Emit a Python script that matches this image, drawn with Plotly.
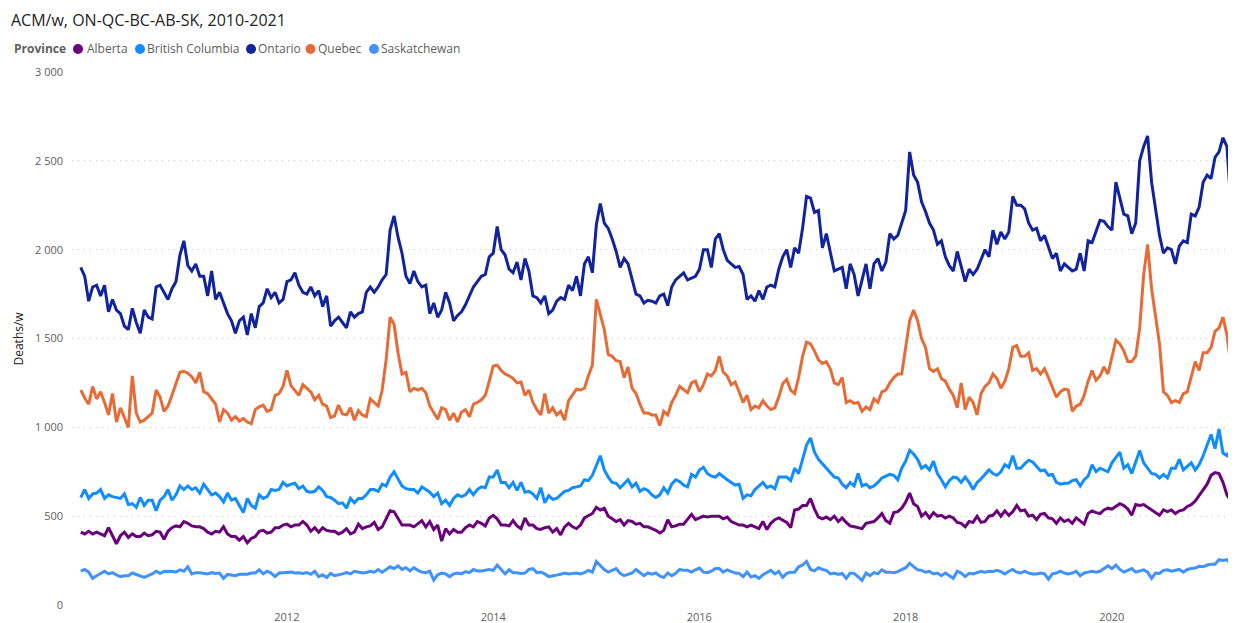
import datetime as dt
import plotly.graph_objects as go

# ---------------- text & categories ----------------
TITLE = "ACM/w, ON-QC-BC-AB-SK, 2010-2021"
LEGEND_TITLE = "Province"
Y_TITLE = "Deaths/w"
PROVINCES = ["Alberta", "British Columbia", "Ontario", "Quebec", "Saskatchewan"]
COLORS = ["#6B007B", "#118DFF", "#12239E", "#E66C37", "#4092FF"]
Y_TICKS = [0, 500, 1000, 1500, 2000, 2500, 3000]
Y_TICK_LABELS = ["0", "500", "1 000", "1 500", "2 000", "2 500", "3 000"]
X_TICK_YEARS = [2012, 2014, 2016, 2018, 2020]
X_TICK_LABELS = ["2012", "2014", "2016", "2018", "2020"]
START = dt.datetime(2010, 1, 1)
STEP_DAYS = 365.25 / 26  # values read every two weeks

# ---------------- values (deaths per week) ----------------
alberta = [
    410, 400, 415, 400, 410, 400, 390, 435, 385, 345, 390, 410, 380, 400, 385, 385, 405, 390, 395, 415, 410, 370, 415, 435, 445, 440,
    470, 460, 445, 440, 440, 430, 410, 400, 415, 410, 440, 400, 385, 385, 365, 385, 350, 375, 385, 415, 420, 405, 410, 435, 435, 450,
    455, 440, 450, 450, 470, 450, 415, 435, 410, 435, 420, 415, 415, 400, 410, 430, 400, 410, 455, 430, 440, 445, 465, 425, 440, 485,
    530, 525, 490, 450, 450, 450, 440, 460, 475, 440, 470, 425, 450, 360, 430, 400, 425, 410, 410, 435, 450, 440, 470, 460, 445, 490,
    505, 485, 450, 450, 445, 475, 445, 430, 490, 450, 450, 430, 425, 435, 440, 410, 430, 395, 440, 460, 440, 430, 450, 490, 505, 515,
    550, 535, 545, 500, 485, 470, 480, 450, 475, 470, 455, 460, 440, 440, 430, 420, 405, 420, 480, 440, 445, 455, 455, 480, 510, 480,
    490, 500, 495, 500, 500, 500, 485, 495, 470, 460, 450, 450, 440, 450, 440, 430, 470, 425, 460, 480, 490, 475, 465, 435, 535, 540,
    560, 560, 600, 540, 495, 485, 495, 480, 500, 470, 490, 465, 445, 440, 435, 430, 460, 465, 470, 490, 515, 475, 460, 520, 525, 545,
    580, 630, 570, 555, 500, 520, 490, 520, 500, 505, 490, 500, 490, 465, 460, 440, 470, 465, 500, 465, 470, 500, 505, 530, 500, 530,
    505, 525, 560, 530, 535, 500, 505, 480, 510, 515, 490, 485, 460, 490, 470, 480, 460, 490, 470, 455, 515, 530, 520, 515, 535, 545,
    540, 555, 570, 560, 540, 505, 565, 560, 565, 550, 535, 515, 505, 535, 525, 535, 515, 530, 535, 555, 565, 585, 615, 645, 680, 730,
    745, 740, 690, 620, 585, 570,
]

british_columbia = [
    605, 650, 600, 625, 630, 650, 600, 620, 610, 605, 600, 625, 565, 570, 550, 605, 560, 590, 590, 530, 590, 610, 650, 590, 620, 670,
    650, 670, 650, 660, 630, 680, 650, 620, 630, 610, 580, 630, 590, 600, 560, 520, 600, 560, 545, 620, 600, 610, 650, 645, 650, 690,
    670, 680, 685, 655, 670, 640, 635, 640, 665, 645, 610, 605, 590, 570, 575, 545, 600, 575, 600, 600, 620, 650, 650, 640, 680, 670,
    720, 750, 710, 670, 655, 650, 650, 630, 665, 650, 635, 610, 630, 570, 590, 560, 600, 620, 610, 620, 650, 620, 650, 665, 660, 720,
    720, 760, 690, 690, 660, 690, 645, 690, 635, 640, 625, 600, 660, 575, 615, 595, 600, 620, 640, 645, 660, 665, 670, 705, 700, 730,
    780, 840, 760, 720, 690, 685, 660, 685, 705, 665, 685, 640, 655, 645, 620, 605, 620, 660, 630, 680, 705, 695, 675, 665, 735, 720,
    760, 775, 740, 725, 720, 740, 720, 705, 690, 675, 680, 600, 620, 615, 650, 670, 690, 660, 670, 655, 720, 720, 720, 700, 770, 740,
    820, 900, 940, 860, 820, 795, 775, 745, 720, 715, 680, 660, 690, 670, 740, 670, 680, 660, 670, 690, 715, 725, 735, 730, 705, 770,
    810, 870, 850, 820, 770, 785, 760, 810, 740, 705, 665, 700, 720, 715, 690, 720, 690, 650, 690, 710, 735, 760, 740, 730, 750, 790,
    775, 840, 770, 770, 795, 815, 805, 780, 755, 760, 730, 735, 690, 680, 685, 685, 700, 705, 670, 705, 725, 790, 750, 770, 760, 750,
    800, 830, 860, 770, 790, 740, 800, 870, 800, 770, 740, 735, 715, 735, 715, 770, 770, 820, 760, 780, 800, 760, 790, 840, 900, 960,
    880, 990, 855, 840, 875, 800,
]

ontario = [
    1900, 1850, 1710, 1790, 1800, 1740, 1800, 1650, 1720, 1660, 1640, 1570, 1550, 1670, 1590, 1530, 1660, 1620, 1610, 1790, 1800, 1760, 1720, 1780, 1820, 1970,
    2050, 1910, 1880, 1920, 1850, 1850, 1740, 1880, 1720, 1760, 1700, 1640, 1600, 1530, 1600, 1620, 1520, 1640, 1560, 1680, 1700, 1780, 1730, 1760, 1700, 1720,
    1820, 1830, 1870, 1800, 1760, 1750, 1790, 1740, 1770, 1680, 1740, 1570, 1600, 1620, 1590, 1560, 1650, 1620, 1640, 1650, 1760, 1790, 1760, 1790, 1830, 1860,
    2110, 2190, 2070, 1980, 1850, 1810, 1880, 1820, 1790, 1800, 1640, 1700, 1620, 1660, 1760, 1700, 1600, 1630, 1650, 1690, 1740, 1790, 1820, 1850, 1860, 1960,
    1980, 2130, 2000, 1970, 1890, 1870, 1930, 1830, 1950, 1880, 1740, 1730, 1700, 1740, 1640, 1660, 1710, 1730, 1720, 1800, 1770, 1850, 1740, 1920, 1960, 1870,
    2140, 2260, 2150, 2120, 2060, 1990, 1900, 1950, 1920, 1840, 1750, 1740, 1700, 1715, 1710, 1700, 1740, 1750, 1685, 1790, 1830, 1850, 1870, 1830, 1840, 1850,
    1890, 2000, 2000, 1900, 2060, 2090, 2000, 1940, 1920, 1900, 1905, 1860, 1720, 1740, 1710, 1770, 1720, 1790, 1800, 1790, 1890, 1960, 2000, 1900, 2010, 1980,
    2120, 2300, 2290, 2210, 2220, 2010, 2090, 1980, 1880, 1890, 1900, 1780, 1920, 1860, 1740, 1830, 1920, 1780, 1920, 1950, 1880, 1930, 2090, 2060, 2080, 2150,
    2220, 2550, 2420, 2380, 2270, 2215, 2150, 2110, 2030, 2050, 1960, 1910, 1880, 1990, 1900, 1820, 1890, 1860, 1890, 1950, 2000, 1960, 2110, 2030, 2100, 2060,
    2100, 2300, 2250, 2250, 2230, 2150, 2110, 2120, 2050, 2080, 2010, 1950, 1980, 1880, 1920, 1900, 1880, 1890, 1980, 1880, 2050, 2040, 2100, 2165, 2160, 2130,
    2110, 2380, 2290, 2200, 2190, 2090, 2150, 2500, 2580, 2640, 2380, 2230, 2080, 1980, 2010, 2000, 1920, 2020, 2050, 2040, 2200, 2190, 2240, 2380, 2420, 2400,
    2520, 2550, 2630, 2580, 2250, 2190,
]

quebec = [
    1210, 1165, 1130, 1230, 1160, 1200, 1140, 1070, 1190, 1030, 1110, 1050, 1000, 1290, 1080, 1030, 1040, 1060, 1080, 1210, 1170, 1090, 1120, 1180, 1240, 1310,
    1315, 1305, 1285, 1250, 1310, 1200, 1190, 1160, 1130, 1030, 1100, 1080, 1040, 1060, 1035, 1050, 1030, 1020, 1100, 1115, 1125, 1090, 1100, 1180, 1190, 1230,
    1320, 1235, 1210, 1180, 1240, 1220, 1200, 1155, 1180, 1130, 1120, 1055, 1065, 1125, 1075, 1070, 1110, 1040, 1095, 1070, 1060, 1160, 1140, 1120, 1210, 1380,
    1620, 1580, 1420, 1300, 1310, 1200, 1220, 1210, 1220, 1195, 1120, 1080, 1045, 1110, 1100, 1040, 1080, 1030, 1085, 1100, 1060, 1130, 1140, 1155, 1180, 1260,
    1345, 1350, 1320, 1300, 1290, 1275, 1250, 1255, 1180, 1210, 1140, 1100, 1070, 1190, 1080, 1110, 1070, 1090, 1040, 1150, 1180, 1215, 1210, 1220, 1290, 1350,
    1720, 1640, 1550, 1410, 1400, 1375, 1370, 1280, 1340, 1220, 1190, 1130, 1080, 1080, 1070, 1070, 1010, 1090, 1070, 1140, 1180, 1230, 1210, 1195, 1250, 1260,
    1200, 1240, 1300, 1290, 1320, 1400, 1310, 1290, 1240, 1255, 1200, 1140, 1180, 1100, 1120, 1110, 1150, 1120, 1100, 1110, 1170, 1245, 1270, 1210, 1190, 1280,
    1400, 1480, 1470, 1430, 1380, 1360, 1370, 1330, 1250, 1240, 1280, 1140, 1150, 1135, 1140, 1090, 1115, 1100, 1160, 1140, 1200, 1210, 1250, 1280, 1300, 1300,
    1450, 1600, 1660, 1600, 1500, 1450, 1330, 1315, 1330, 1275, 1260, 1215, 1180, 1110, 1250, 1100, 1170, 1140, 1070, 1190, 1230, 1250, 1300, 1275, 1220, 1260,
    1330, 1450, 1460, 1400, 1400, 1420, 1320, 1330, 1300, 1330, 1280, 1220, 1170, 1200, 1215, 1210, 1090, 1120, 1130, 1180, 1260, 1320, 1265, 1290, 1340, 1300,
    1400, 1490, 1470, 1430, 1370, 1370, 1400, 1560, 1860, 2030, 1780, 1620, 1470, 1200, 1180, 1140, 1150, 1140, 1190, 1200, 1290, 1370, 1320, 1420, 1420, 1450,
    1540, 1560, 1620, 1520, 1350, 1280,
]

saskatchewan = [
    190, 200, 185, 150, 165, 180, 190, 175, 182, 170, 160, 165, 165, 180, 172, 163, 155, 165, 175, 190, 178, 188, 190, 190, 185, 198,
    190, 215, 175, 182, 182, 180, 175, 182, 178, 180, 150, 172, 170, 165, 173, 172, 173, 180, 180, 198, 175, 190, 180, 160, 180, 182,
    182, 185, 180, 182, 178, 183, 173, 190, 160, 170, 155, 178, 165, 168, 175, 182, 175, 190, 185, 180, 183, 190, 185, 200, 185, 200,
    215, 205, 220, 200, 210, 192, 210, 195, 185, 182, 190, 140, 170, 180, 175, 160, 175, 180, 175, 188, 182, 200, 192, 192, 198, 200,
    195, 225, 200, 175, 198, 182, 182, 178, 180, 200, 205, 182, 185, 175, 160, 162, 168, 173, 180, 175, 178, 180, 175, 182, 195, 185,
    245, 220, 200, 185, 195, 205, 178, 165, 172, 180, 200, 180, 165, 180, 173, 180, 163, 155, 180, 165, 178, 200, 195, 195, 185, 198,
    208, 185, 182, 190, 205, 205, 185, 198, 190, 180, 178, 160, 185, 158, 165, 150, 170, 182, 195, 175, 190, 155, 178, 185, 185, 215,
    225, 245, 200, 192, 210, 200, 195, 175, 180, 172, 178, 150, 180, 178, 160, 138, 180, 165, 182, 175, 198, 185, 185, 182, 188, 198,
    210, 235, 215, 198, 195, 185, 190, 175, 180, 165, 180, 165, 150, 190, 180, 160, 178, 175, 182, 190, 185, 190, 188, 195, 188, 175,
    190, 200, 185, 180, 190, 180, 175, 175, 180, 175, 145, 175, 180, 190, 180, 175, 180, 190, 165, 180, 185, 190, 185, 190, 205, 220,
    205, 225, 200, 185, 195, 205, 185, 190, 198, 185, 150, 180, 178, 195, 198, 190, 195, 200, 185, 200, 205, 208, 218, 215, 225, 230,
    230, 255, 250, 255, 230, 238,
]

SERIES = [alberta, british_columbia, ontario, quebec, saskatchewan]

# ---------------- layout geometry ----------------
# The page body adds an 8 px margin, so figure coordinates = window coordinates - 8.
W, H = 1236, 623
OFF = 8
L, R, T, B = 64, 8, 64, 26
PW, PH = W - L - R, H - T - B
FONT = "Segoe UI, Open Sans, sans-serif"
GREY = "#605E5C"
DARK = "#252423"


def dates(n):
    return [START + dt.timedelta(days=i * STEP_DAYS) for i in range(n)]


def px_x(px):
    """window x pixel -> paper coordinate"""
    return (px - OFF - L) / PW


def px_y(py):
    """window y pixel -> paper coordinate"""
    return (H - B - (py - OFF)) / PH


fig = go.Figure()
for name, color, vals in zip(PROVINCES, COLORS, SERIES):
    fig.add_trace(go.Scatter(
        x=dates(len(vals)), y=vals, mode="lines", name=name,
        line=dict(color=color, width=3), showlegend=False,
        hovertemplate="%{x|%Y-%m-%d}<br>" + name + ": %{y}<extra></extra>",
    ))

# legend drawn as a compact Power-BI-like row
annotations = [
    dict(text="<b>" + LEGEND_TITLE + "</b>", x=px_x(12), y=px_y(49), xref="paper", yref="paper",
         xanchor="left", yanchor="middle", showarrow=False, font=dict(family=FONT, size=12, color=GREY)),
    dict(text=Y_TITLE, x=px_x(18), y=0.5, xref="paper", yref="paper", textangle=-90,
         xanchor="center", yanchor="middle", showarrow=False, font=dict(family=FONT, size=12, color=DARK)),
]
shapes = []
bullet_cx = [78, 140, 251, 310.5, 374]
label_x = [85, 145, 256, 316, 379]
for name, color, cx, lx in zip(PROVINCES, COLORS, bullet_cx, label_x):
    shapes.append(dict(type="circle", xref="paper", yref="paper",
                       x0=px_x(cx - 5), x1=px_x(cx + 5), y0=px_y(54), y1=px_y(44),
                       fillcolor=color, line=dict(width=0)))
    annotations.append(dict(text=name, x=px_x(lx), y=px_y(49), xref="paper", yref="paper",
                            xanchor="left", yanchor="middle", showarrow=False,
                            font=dict(family=FONT, size=12, color=GREY)))

fig.update_layout(
    width=W, height=H,
    margin=dict(l=L, r=R, t=T, b=B),
    paper_bgcolor="white", plot_bgcolor="white",
    title=dict(text=TITLE, x=(11 - OFF) / W, xref="container", xanchor="left",
               y=1 - (20 - OFF) / H, yref="container", yanchor="middle",
               font=dict(family=FONT, size=16, color=DARK)),
    annotations=annotations, shapes=shapes,
    xaxis=dict(type="date",
               range=[dt.datetime(2009, 12, 1), dt.datetime(2021, 3, 16)],
               tickvals=[dt.datetime(y, 1, 1) for y in X_TICK_YEARS], ticktext=X_TICK_LABELS,
               showgrid=False, zeroline=False, showline=False, ticks="",
               ticklabelstandoff=4,
               tickfont=dict(family=FONT, size=11, color=GREY)),
    yaxis=dict(range=[0, 3000], tickvals=Y_TICKS, ticktext=Y_TICK_LABELS,
               showgrid=True, gridcolor="#C8C6C4", griddash="1px,5px", gridwidth=1,
               zeroline=False, showline=False, ticks="", ticklabelstandoff=8,
               tickfont=dict(family=FONT, size=11, color=GREY)),
    hovermode="closest",
)

fig.write_html("out.html")
